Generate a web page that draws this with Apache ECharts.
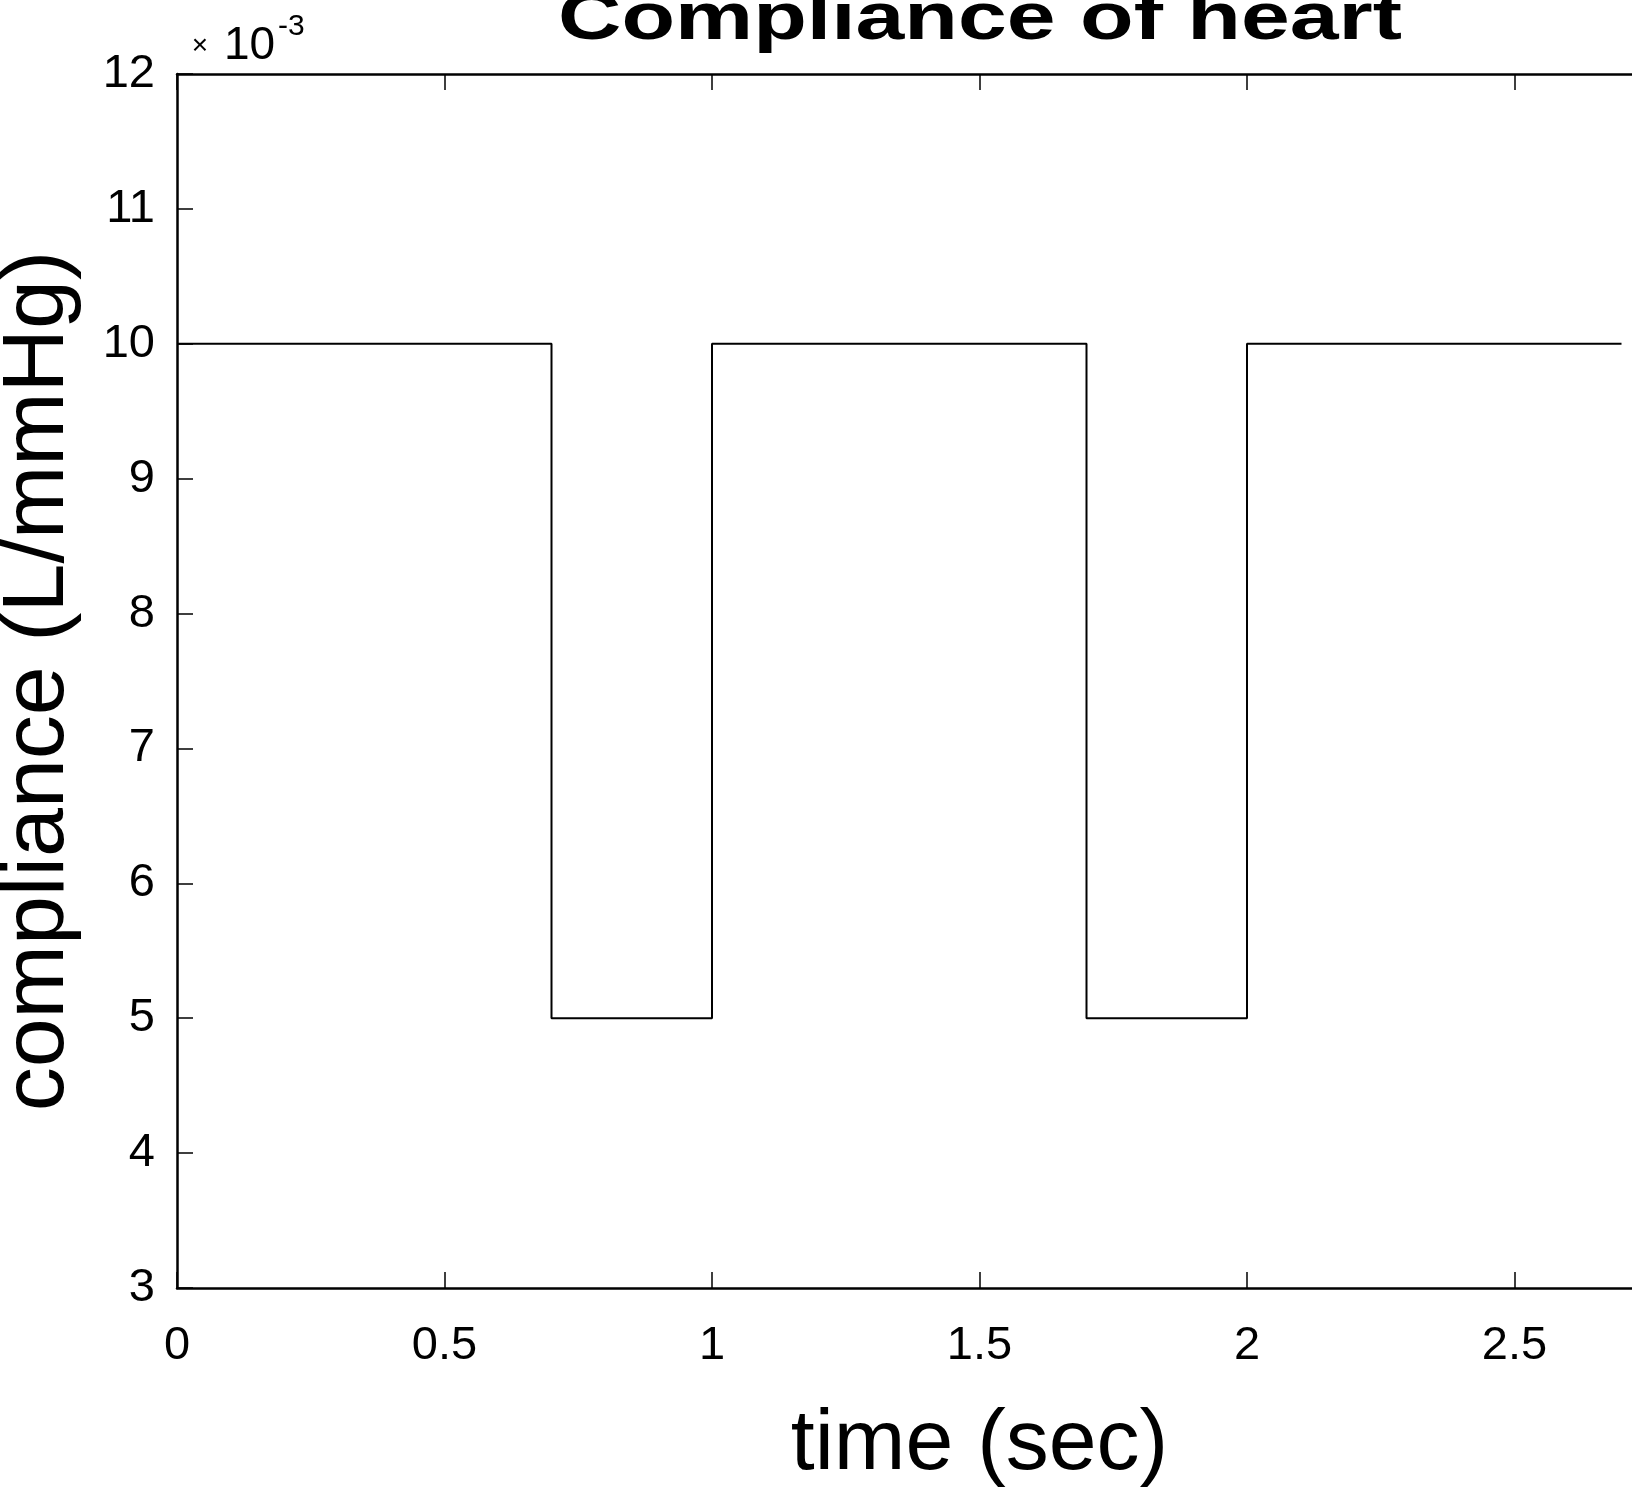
<!DOCTYPE html>
<html>
<head>
<meta charset="utf-8">
<title>Compliance of heart</title>
<script src="https://cdn.jsdelivr.net/npm/echarts@6/dist/echarts.min.js"></script>
<style>
  html, body { margin: 0; padding: 0; background: #fff; }
  #chart { width: 1632px; height: 1488px; }
</style>
</head>
<body>
<div id="chart"></div>
<script>
// Time-varying compliance of the heart: two cardiac cycles (period 1 s,
// systole from 0.7 s to 1.0 s). Values are in units of 1e-3 L/mmHg.
const timeSec = [0, 0.7, 0.7, 1.0, 1.0, 1.7, 1.7, 2.0, 2.0, 2.7];
const compliance = [10, 10, 5, 5, 10, 10, 5, 5, 10, 10];

const xTicks = { min: 0, max: 3, interval: 0.5 };
const yTicks = { min: 3, max: 12, interval: 1 };

const FONT = '"Liberation Sans", Arial, sans-serif';
const INK = '#000';

const chart = echarts.init(document.getElementById('chart'), null, { renderer: 'canvas' });

const tickStyle = { show: true, inside: true, length: 16, lineStyle: { color: INK, width: 1.5 } };
const lineStyle = { show: true, onZero: false, lineStyle: { color: INK, width: 2.5 } };

chart.setOption({
  animation: false,
  backgroundColor: '#fff',
  grid: {
    left: 177,
    top: 74,
    width: 1605,
    bottom: 200,
    containLabel: false,
    outerBoundsMode: 'none'
  },
  xAxis: [
    {
      type: 'value',
      position: 'bottom',
      min: xTicks.min, max: xTicks.max, interval: xTicks.interval,
      axisLine: lineStyle,
      axisTick: tickStyle,
      splitLine: { show: false },
      axisLabel: {
        margin: 35, color: INK, fontFamily: FONT, fontSize: 47,
        formatter: v => String(+v.toFixed(1))
      },
      name: 'time (sec)',
      nameLocation: 'middle',
      nameGap: 114,
      nameTextStyle: { color: INK, fontFamily: FONT, fontSize: 86 }
    },
    {
      type: 'value',
      position: 'top',
      min: xTicks.min, max: xTicks.max, interval: xTicks.interval,
      axisLine: lineStyle,
      axisTick: tickStyle,
      splitLine: { show: false },
      axisLabel: { show: false }
    }
  ],
  yAxis: [
    {
      type: 'value',
      position: 'left',
      min: yTicks.min, max: yTicks.max, interval: yTicks.interval,
      axisLine: lineStyle,
      axisTick: tickStyle,
      splitLine: { show: false },
      axisLabel: { margin: 22, color: INK, fontFamily: FONT, fontSize: 47 },
      name: 'compliance (L/mmHg)',
      nameLocation: 'middle',
      nameRotate: 90,
      nameGap: 94,
      nameTextStyle: { color: INK, fontFamily: FONT, fontSize: 88 }
    },
    {
      type: 'value',
      position: 'right',
      min: yTicks.min, max: yTicks.max, interval: yTicks.interval,
      axisLine: lineStyle,
      axisTick: tickStyle,
      splitLine: { show: false },
      axisLabel: { show: false }
    }
  ],
  series: [
    {
      type: 'line',
      xAxisIndex: 0,
      yAxisIndex: 0,
      data: timeSec.map((t, i) => [t, compliance[i]]),
      showSymbol: false,
      symbol: 'none',
      clip: true,
      lineStyle: { color: INK, width: 2 }
    }
  ],
  graphic: [
    {
      // chart title, stretched wide like the plotting font it mimics
      type: 'text',
      x: 980,
      y: 21,
      scaleX: 1.33,
      style: {
        text: 'Compliance of heart',
        font: 'bold 66px ' + FONT,
        fill: INK,
        textAlign: 'center',
        textVerticalAlign: 'middle'
      }
    },
    {
      // axis multiplier: ×10^-3
      type: 'text',
      x: 200,
      y: 46,
      style: {
        text: '×',
        font: '28px ' + FONT,
        fill: INK,
        textAlign: 'center',
        textVerticalAlign: 'middle'
      }
    },
    {
      type: 'text',
      x: 224,
      y: 46,
      style: {
        text: '10',
        font: '46px ' + FONT,
        fill: INK,
        textAlign: 'left',
        textVerticalAlign: 'middle'
      }
    },
    {
      type: 'text',
      x: 278,
      y: 27,
      style: {
        text: '-3',
        font: '30px ' + FONT,
        fill: INK,
        textAlign: 'left',
        textVerticalAlign: 'middle'
      }
    }
  ]
});
</script>
</body>
</html>
